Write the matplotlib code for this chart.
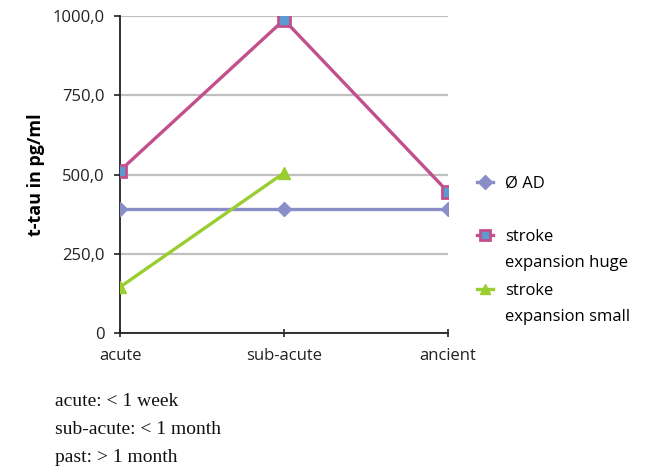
import matplotlib
matplotlib.use("Agg")
import matplotlib.pyplot as plt

categories = ["acute", "sub-acute", "ancient"]
ad_mean = [391, 391, 391]
stroke_huge = [512, 988, 445]
stroke_small = [145, 505]

y_ticks = [0, 250, 500, 750, 1000]
y_tick_labels = ["0", "250,0", "500,0", "750,0", "1000,0"]
legend_labels = ["Ø AD", "stroke", "stroke"]
legend_second_lines = [None, "expansion huge", "expansion small"]
footnotes = ["acute: < 1 week", "sub-acute: < 1 month", "past: > 1 month"]

plt.rcParams["font.family"] = ["Open Sans", "DejaVu Sans"]

fig = plt.figure(figsize=(6.46, 4.71), dpi=100)
ax = fig.add_axes([0.1858, 0.293, 0.5077, 0.673])

x = list(range(len(categories)))
h1, = ax.plot(x, ad_mean, color="#8a8ec8", lw=2.4, marker="D", ms=7,
              mfc="#8a8ec8", mec="#8a8ec8", zorder=3)
h2, = ax.plot(x, stroke_huge, color="#c2508c", lw=2.4, marker="s", ms=8,
              mfc="#5a9bd4", mec="#c2508c", mew=2, zorder=4)
h3, = ax.plot(x[:len(stroke_small)], stroke_small, color="#9acd2f", lw=2.4, marker="^", ms=9,
              mfc="#9acd2f", mec="#9acd2f", zorder=3)

ax.set_xlim(0, 2)
ax.set_ylim(0, 1000)
ax.set_xticks(x)
ax.set_xticklabels(categories, fontsize=12, color="#222222")
ax.set_yticks(y_ticks)
ax.set_yticklabels(y_tick_labels, fontsize=12, color="#222222")
ax.yaxis.grid(True, color="#c0c0c0", lw=1.6)
ax.set_axisbelow(True)
for s in ["top", "right"]:
    ax.spines[s].set_visible(False)
for s in ["left", "bottom"]:
    ax.spines[s].set_color("#222222")
    ax.spines[s].set_linewidth(1.3)
ax.tick_params(axis="y", length=4, width=1.2, color="#222222", pad=7)
ax.tick_params(axis="x", direction="inout", length=6, width=1.2, color="#222222", pad=8)

ax.set_ylabel("t-tau in pg/ml", fontsize=13, fontweight="bold")
ax.yaxis.set_label_coords(-0.23, 0.5)

leg = fig.legend([h1, h2, h3], legend_labels, loc="upper left",
                 bbox_to_anchor=(0.738, 0.627), frameon=False, borderpad=0,
                 borderaxespad=0, fontsize=12, handlelength=1.0,
                 labelspacing=2.25, handletextpad=0.7)
for h in leg.legend_handles:
    h.set_markersize(7.5)

# second line of the two-line legend labels, placed under the first line
fig.canvas.draw()
W, H = fig.canvas.get_width_height()
for t, extra in zip(leg.get_texts(), legend_second_lines):
    if extra:
        bb = t.get_window_extent()
        fig.text(bb.x0 / W, (bb.y0 + bb.height / 2 - 26) / H, extra,
                 fontsize=12, ha="left", va="center")

for i, t in enumerate(footnotes):
    fig.text(0.085, 1 - (402 + 28 * i) / 471, t, fontsize=14,
             family=["Liberation Serif", "DejaVu Serif"], va="center", color="#111111")

fig.savefig("out.png", dpi=100)
